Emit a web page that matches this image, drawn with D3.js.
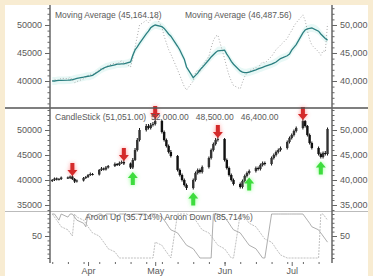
<!DOCTYPE html>
<html><head><meta charset="utf-8">
<script src="https://cdn.jsdelivr.net/npm/d3@7"></script>
<style>
html,body{margin:0;padding:0;background:#f8ecd2;}
svg{display:block;font-family:"Liberation Sans",Arial,sans-serif;}
</style></head>
<body><svg id="c" width="373" height="276"></svg>
<script>
// ---------- data ----------
const firstTradingDay = "2020-03-16";
const openVals = [39800,40000,40300,40100,40200,40500,40400,40700,40200,39700,
 39900,40400,40600,41000,41200,41100,42000,42300,42100,42500,
 42800,43200,43000,43400,43600,43300,42500,44000,46000,48000,
 50000,50800,50400,51000,51200,51800,49600,48000,46800,45600,
 44800,42000,41000,40000,39000,38400,40000,41400,42000,41600,
 42600,44400,46000,47200,48000,48200,44000,42400,41000,40000,
 39200,38600,39800,40800,41400,41800,42400,42200,43000,43400,
 43200,44400,45000,45600,46000,46400,47600,48400,49000,49800,
 50400,51800,50800,49000,47400,46400,45200,44600,45400,45200];
const highVals = [40200,40500,40500,40400,40700,40700,40900,41000,40400,40100,
 40600,40800,41200,41500,41400,42200,42600,42500,42800,43000,
 43500,43400,43700,43900,44000,43500,44400,46400,48400,50400,
 51200,51200,51400,51600,52400,52000,49900,48300,47100,46000,
 45000,42300,41300,40300,39300,40300,41700,42300,42300,42900,
 44700,46300,47500,48400,48600,48400,44300,42700,41300,40300,
 39500,40100,41100,41700,42100,42700,42700,43300,43700,43700,
 44700,45300,45900,46300,46700,47900,48700,49300,50100,50700,
 52200,52000,51000,49300,47700,46700,45500,45700,45800,50500];
const lowVals = [39600,39800,39900,39900,40000,40200,40200,40000,39400,39500,
 39700,40200,40400,40800,40900,40900,41800,41900,41900,42300,
 42600,42800,42800,43200,43000,42200,42200,43800,45700,47700,
 49700,50100,50100,50700,50900,49300,47700,46500,45300,44500,
 41700,40700,39700,38700,38000,38100,39700,41100,41300,41300,
 42300,44100,45700,46900,47700,43700,42100,40700,39700,38900,
 38300,38300,39500,40500,41100,41500,41900,41900,42700,42900,
 42900,44100,44700,45300,45700,46100,47300,48100,48700,49500,
 50100,50500,48700,47100,46100,44900,44300,44300,44900,44900];
const closeVals = [40000,40300,40100,40200,40500,40400,40700,40200,39700,39900,
 40400,40600,41000,41200,41100,42000,42300,42100,42500,42800,
 43200,43000,43400,43600,43300,42500,44000,46000,48000,50000,
 50800,50400,51000,51200,51800,49600,48000,46800,45600,44800,
 42000,41000,40000,39000,38400,40000,41400,42000,41600,42600,
 44400,46000,47200,48000,48200,44000,42400,41000,40000,39200,
 38600,39800,40800,41400,41800,42400,42200,43000,43400,43200,
 44400,45000,45600,46000,46400,47600,48400,49000,49800,50400,
 51800,50800,49000,47400,46400,45200,44600,45400,45200,50200];
const maVals = [40000,40000,40050,40100,40100,40150,40180,40250,40350,40450,
 40700,40800,40850,40900,41000,41800,42100,42300,42500,42600,
 42900,43000,43000,43050,43050,43400,44600,45540,46100,46700,
 48400,48900,49500,49800,50000,49700,49400,48900,48400,48000,
 46200,45540,44700,43900,42500,40600,41000,41400,42000,42400,
 43800,44300,44700,45100,45400,45500,44800,44200,43500,43000,
 41800,41600,41500,41500,41600,42000,42150,42300,42450,42600,
 43000,43200,43400,43700,44000,44500,44800,45500,46000,46500,
 48600,49100,49300,49400,49460,48900,48400,48000,47600,47300];
const aroonUp = [100,100,93,86,100,93,100,100,93,86,
 79,71,100,100,93,100,100,93,100,100,
 100,93,100,100,100,93,100,100,100,100,
 100,93,100,100,100,93,86,79,71,64,
 57,50,43,36,29,21,14,7,0,0,
 0,0,100,100,100,93,86,79,71,64,
 57,50,43,36,29,21,14,7,0,0,
 100,100,100,100,100,100,100,100,100,100,
 100,93,86,79,71,64,57,50,43,36];
const aroonDown = [100,93,86,79,71,64,57,50,100,93,
 86,79,71,64,57,50,43,36,29,21,
 14,7,0,0,0,0,0,0,0,0,
 0,0,0,0,36,29,21,14,7,0,
 100,100,100,100,100,93,86,79,71,64,
 57,50,43,36,29,21,14,7,0,0,
 100,100,93,86,79,71,64,57,50,43,
 36,29,21,14,7,0,0,0,0,0,
 0,0,0,0,0,0,100,100,93,86];
const sellIdx = [7,24,34,54,80];
const buyIdx = [26,45,64,86];
const topTicks = [40000,45000,50000];
const midTicks = [35000,40000,45000,50000];
const botTicks = [50];
const monthDates = ["2020-04-01","2020-05-01","2020-06-01","2020-07-01"];
const monthLabels = ["Apr","May","Jun","Jul"];
const topTitles = ["Moving Average (45,164.18)","Moving Average (46,487.56)"];
const midTitle = "CandleStick (51,051.00)  52,000.00   48,500.00   46,400.00";
const botTitle = "Aroon Up (35.714%)  Aroon Down (85.714%)";

// ---------- dates ----------
const parse = d3.timeParse("%Y-%m-%d");
const dates = [];
{ let d = parse(firstTradingDay);
  while (dates.length < closeVals.length) {
    const wd = d.getDay();
    if (wd !== 0 && wd !== 6) dates.push(new Date(d));
    d = d3.timeDay.offset(d, 1);
  } }
const data = closeVals.map((c,i)=>({date:dates[i],o:openVals[i],h:highVals[i],l:lowVals[i],c:c,ma:maVals[i],up:aroonUp[i],dn:aroonDown[i]}));

// ---------- layout ----------
const svg = d3.select("#c");
const L = 50, R = 332;
const axisCol = "#666", txtCol = "#5a5a5a";
svg.append("rect").attr("x",5).attr("y",5).attr("width",363).attr("height",271).attr("fill","#fff");

const defs = svg.append("defs");
defs.append("clipPath").attr("id","clip").append("rect").attr("x",L).attr("y",5).attr("width",R-L).attr("height",260);
const glow = defs.append("filter").attr("id","glow").attr("x","-100%").attr("y","-100%").attr("width","300%").attr("height","300%");
glow.append("feGaussianBlur").attr("stdDeviation",2.2);

const x = d3.scaleTime().domain([parse("2020-03-15"), parse("2020-07-19")]).range([L,R]);
const yTop = d3.scaleLinear().domain([35180,53570]).range([108,5]);
const yMid = d3.scaleLinear().domain([33800,54400]).range([211,108]);
const yBot = d3.scaleLinear().domain([0,100]).range([258,214]);

const plot = svg.append("g").attr("clip-path","url(#clip)");

// top panel
plot.append("path").datum(data)
  .attr("d", d3.area().x(d=>x(d.date)).y0(d=>yTop(d.ma-700)).y1(d=>yTop(d.ma+700)).curve(d3.curveMonotoneX))
  .attr("fill","#e4f7f5").attr("opacity",0.85);
plot.append("path").datum(data)
  .attr("d", d3.line().x(d=>x(d.date)).y(d=>yTop(d.c)))
  .attr("fill","none").attr("stroke","#a0a0a0").attr("stroke-width",0.9).attr("stroke-dasharray","1,2");
plot.append("path").datum(data)
  .attr("d", d3.line().x(d=>x(d.date)).y(d=>yTop(d.ma)))
  .attr("fill","none").attr("stroke","#2b7f80").attr("stroke-width",1.3);

// middle panel: candles
const cg = plot.append("g");
cg.selectAll("line.w").data(data).join("line")
  .attr("x1",d=>x(d.date)).attr("x2",d=>x(d.date))
  .attr("y1",d=>yMid(d.h)).attr("y2",d=>yMid(d.l))
  .attr("stroke","#111").attr("stroke-width",1);
cg.selectAll("rect.b").data(data).join("rect")
  .attr("x",d=>x(d.date)-1.2).attr("width",2.4)
  .attr("y",d=>yMid(Math.max(d.o,d.c)))
  .attr("height",d=>Math.max(1,Math.abs(yMid(d.o)-yMid(d.c))))
  .attr("fill",d=>d.c>=d.o?"#333":"#111");

// arrows
function downArrow(cx, tip){
  return `M${cx},${tip} L${cx-5},${tip-6} L${cx-2},${tip-6} L${cx-2},${tip-13} L${cx+2},${tip-13} L${cx+2},${tip-6} L${cx+5},${tip-6} Z`;
}
function upArrow(cx, tip){
  return `M${cx},${tip} L${cx-5},${tip+6} L${cx-2},${tip+6} L${cx-2},${tip+13} L${cx+2},${tip+13} L${cx+2},${tip+6} L${cx+5},${tip+6} Z`;
}
const ag = svg.append("g");
sellIdx.forEach(i=>{
  const d = data[i], cx = x(d.date), tip = yMid(d.h)+1;
  ag.append("path").attr("d",downArrow(cx,tip)).attr("fill","#ff8a8a").attr("filter","url(#glow)").attr("opacity",0.85);
  ag.append("path").attr("d",downArrow(cx,tip)).attr("fill","#d42a2a");
});
buyIdx.forEach(i=>{
  const d = data[i], cx = x(d.date), tip = yMid(d.l)+3;
  ag.append("path").attr("d",upArrow(cx,tip)).attr("fill","#85ff85").attr("filter","url(#glow)").attr("opacity",0.85);
  ag.append("path").attr("d",upArrow(cx,tip)).attr("fill","#3ddc3d");
});

// bottom panel
plot.append("path").datum(data)
  .attr("d", d3.line().x(d=>x(d.date)).y(d=>yBot(d.up)))
  .attr("fill","none").attr("stroke","#999").attr("stroke-width",0.8);
plot.append("path").datum(data)
  .attr("d", d3.line().x(d=>x(d.date)).y(d=>yBot(d.dn)))
  .attr("fill","none").attr("stroke","#b0b0b0").attr("stroke-width",0.8).attr("stroke-dasharray","2,1");

// separators
svg.append("line").attr("x1",5).attr("x2",368).attr("y1",108).attr("y2",108).attr("stroke","#555").attr("stroke-width",1.5);
svg.append("line").attr("x1",5).attr("x2",368).attr("y1",211.5).attr("y2",211.5).attr("stroke","#bbb").attr("stroke-width",1);

// titles
const tStyle = s=>s.attr("font-size",8.5).attr("fill",txtCol);
svg.append("text").attr("x",55).attr("y",18).text(topTitles[0]).call(tStyle);
svg.append("text").attr("x",185).attr("y",18).text(topTitles[1]).call(tStyle);
svg.append("text").attr("x",55).attr("y",120).text(midTitle).style("white-space","pre").call(tStyle);
svg.append("text").attr("x",85).attr("y",220).text(botTitle).call(tStyle);

// y axes
function yAxes(scale, ticks, minor, fmtL, fmtR){
  const gl = svg.append("g").attr("transform",`translate(${L},0)`);
  gl.call(d3.axisLeft(scale).tickValues(minor).tickSize(2.5).tickFormat(""));
  gl.select(".domain").remove();
  const gl2 = svg.append("g").attr("transform",`translate(${L},0)`);
  gl2.call(d3.axisLeft(scale).tickValues(ticks).tickSize(5).tickPadding(3).tickFormat(fmtL));
  gl2.select(".domain").remove();
  const gr = svg.append("g").attr("transform",`translate(${R},0)`);
  gr.call(d3.axisRight(scale).tickValues(minor).tickSize(2.5).tickFormat(""));
  gr.select(".domain").remove();
  const gr2 = svg.append("g").attr("transform",`translate(${R},0)`);
  gr2.call(d3.axisRight(scale).tickValues(ticks).tickSize(5).tickPadding(3).tickFormat(fmtR));
  gr2.select(".domain").remove();
  [gl,gl2,gr,gr2].forEach(g=>{
    g.selectAll("line").attr("stroke",axisCol);
    g.selectAll("text").attr("font-size",9).attr("fill",txtCol).attr("font-family","Liberation Sans, Arial, sans-serif");
  });
}
yAxes(yTop, topTicks, d3.range(36000,53001,1000), d3.format("d"), d3.format(","));
yAxes(yMid, midTicks, d3.range(34000,54001,1000), d3.format("d"), d3.format(","));
yAxes(yBot, botTicks, d3.range(0,101,10), d3.format("d"), d3.format("d"));

svg.append("line").attr("x1",L).attr("x2",L).attr("y1",5).attr("y2",263).attr("stroke",axisCol).attr("stroke-width",1.5);
svg.append("line").attr("x1",R).attr("x2",R).attr("y1",5).attr("y2",263).attr("stroke",axisCol).attr("stroke-width",1.5);

// x axis
const xg = svg.append("g").attr("transform","translate(0,262)");
xg.call(d3.axisBottom(x).tickValues(d3.timeMonday.range(x.domain()[0], x.domain()[1])).tickSize(2).tickFormat(""));
xg.select(".domain").remove();
const xg2 = svg.append("g").attr("transform","translate(0,262)");
xg2.call(d3.axisBottom(x).tickValues(monthDates.map(parse)).tickSize(4).tickPadding(2).tickFormat((d,i)=>monthLabels[i]));
xg2.select(".domain").remove();
[xg,xg2].forEach(g=>{
  g.selectAll("line").attr("stroke",axisCol);
  g.selectAll("text").attr("font-size",9).attr("fill",txtCol).attr("font-family","Liberation Sans, Arial, sans-serif");
});
</script></body></html>
